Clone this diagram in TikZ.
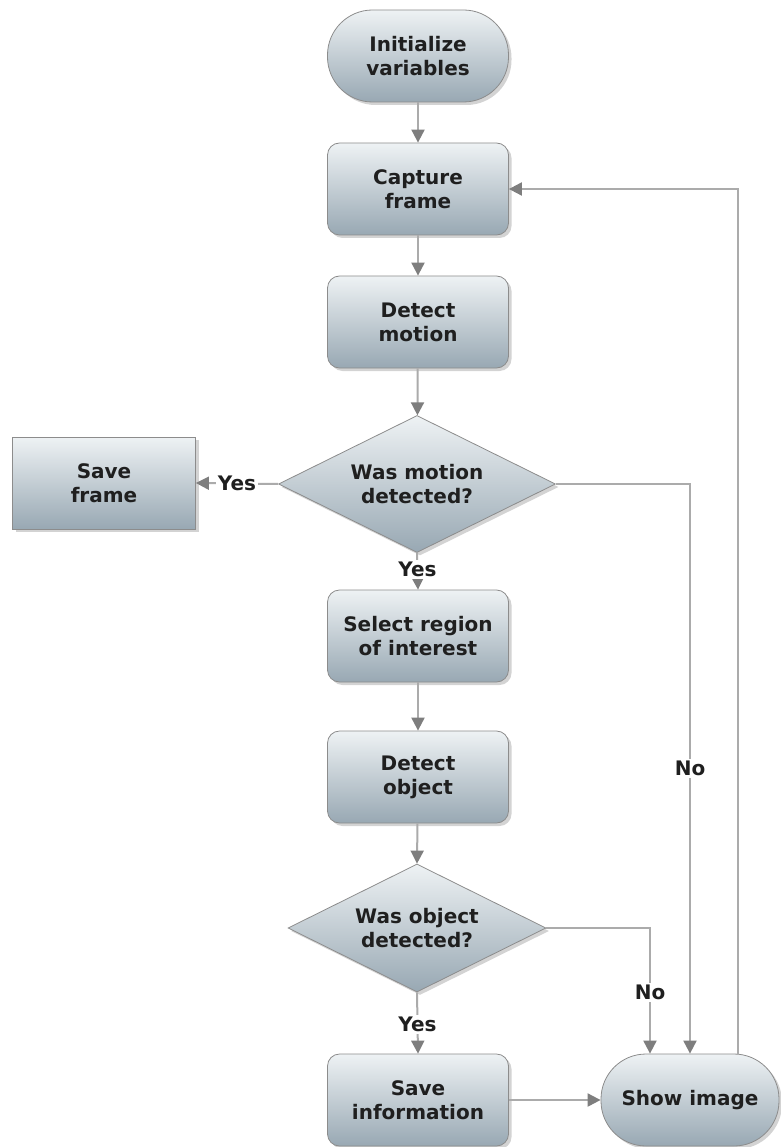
\documentclass[tikz,border=0pt]{standalone}
\usepackage{fontspec}
\setmainfont{DejaVu Sans}
\usetikzlibrary{shapes.geometric,shadows,arrows.meta}
\definecolor{topc}{HTML}{EEF2F4}
\definecolor{botc}{HTML}{98A8B3}
\definecolor{linec}{HTML}{ABABAB}
\definecolor{tipc}{HTML}{7E7E7E}
\definecolor{edgec}{HTML}{8C8C8C}
\begin{document}
\begin{tikzpicture}[x=1pt,y=-1pt,
 txt/.style={align=center, font=\bfseries\fontsize{20}{24}\selectfont, text=black!88},
 box/.style={txt, draw=edgec, line width=0.8pt, top color=topc, bottom color=botc,
   minimum width=181pt, minimum height=92pt, inner sep=0pt,
   drop shadow={shadow xshift=3pt, shadow yshift=-3pt, opacity=0.35}},
 proc/.style={box, rounded corners=12pt},
 term/.style={box, rounded corners=45pt},
 plainbox/.style={box},
 dec/.style={box, diamond, minimum width=277pt, minimum height=137pt},
 conn/.style={draw=linec, line width=2pt, -{Triangle[length=13pt,width=13pt,fill=tipc,color=tipc]}},
 lbl/.style={fill=white, inner sep=2pt, text=black!88, font=\bfseries\fontsize{20}{22}\selectfont}
]
\useasboundingbox (0,0) rectangle (780,1147);

\node[term] (init) at (418,56) {Initialize\\variables};
\node[proc] (cap) at (418,189) {Capture\\frame};
\node[proc] (det) at (418,322) {Detect\\motion};
\node[dec, label={[txt]center:Was motion\\detected?}] (dm) at (417,484) {};
\node[plainbox, minimum width=183pt] (sf) at (104,483) {Save\\frame};
\node[proc] (sel) at (418,636) {Select region\\of interest};
\node[proc] (dobj) at (418,777) {Detect\\object};
\node[dec, minimum width=258pt, minimum height=128pt, label={[txt]center:Was object\\detected?}] (do) at (417,928) {};
\node[proc] (si) at (418,1100) {Save\\information};
\node[term, minimum width=178pt] (show) at (690,1100) {Show image};

\coordinate (noobj) at ([xshift=-40pt]show.north);
\coordinate (loop) at ([xshift=48pt]show.north);

\draw[conn] (init) -- (cap);
\draw[conn] (cap) -- (det);
\draw[conn] (det) -- (dm);
\draw[conn] (dm.west) -- (sf.east) node[lbl, pos=0.5] {Yes};
\draw[conn] (dm.south) -- (sel.north) node[lbl, pos=0.45] {Yes};
\draw[conn] (sel) -- (dobj);
\draw[conn] (dobj) -- (do.north);
\draw[conn] (do.south) -- (si.north) node[lbl, pos=0.52] {Yes};
\draw[conn] (si.east) -- (show.west);
\draw[conn] (do.east) -| (noobj) node[lbl, pos=0.758] {No};
\draw[conn] (dm.east) -| (show.north) node[lbl, pos=0.75] {No};
\draw[conn] (loop) |- (cap.east);
\end{tikzpicture}
\end{document}
